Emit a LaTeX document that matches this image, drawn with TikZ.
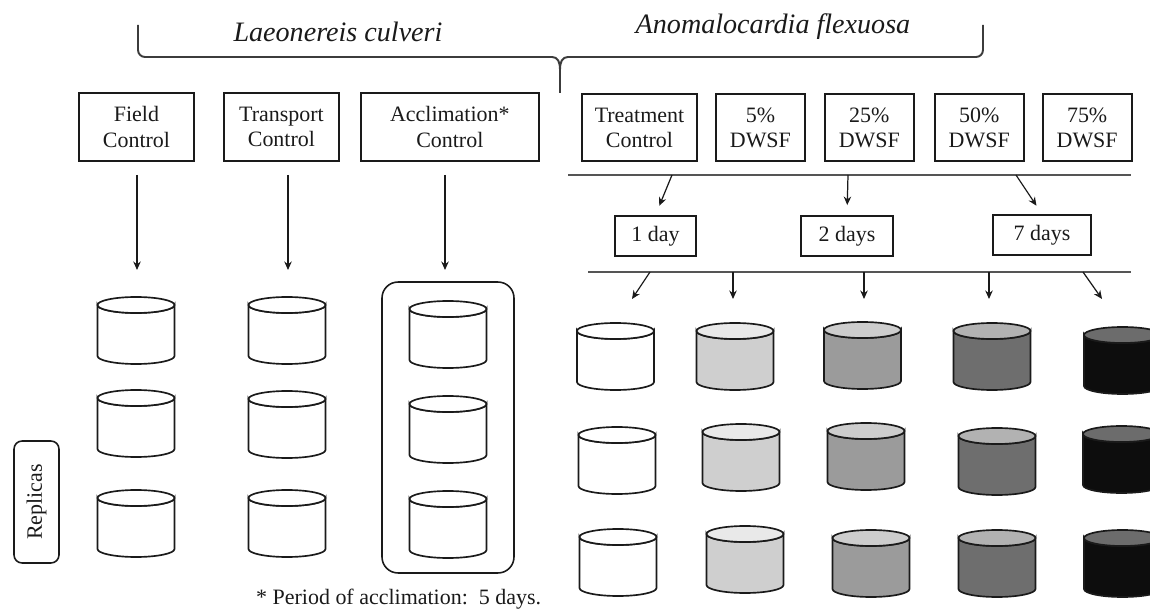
\documentclass[tikz,border=0pt]{standalone}
\usepackage{fontspec}
\setmainfont{Liberation Serif}
\usetikzlibrary{positioning, arrows.meta, calc}

\definecolor{ink}{HTML}{1A1A1A}
\definecolor{railgray}{HTML}{555555}
\definecolor{tankB}{HTML}{CFCFCF}
\definecolor{tankBtop}{HTML}{E9E9E9}
\definecolor{tankC}{HTML}{9B9B9B}
\definecolor{tankCtop}{HTML}{CDCDCD}
\definecolor{tankD}{HTML}{6E6E6E}
\definecolor{tankDtop}{HTML}{B2B2B2}
\definecolor{tankE}{HTML}{0D0D0D}
\definecolor{tankEtop}{HTML}{6C6C6C}

\begin{document}
\begin{tikzpicture}[
  x=0.02cm, y=-0.02cm,
  >={Stealth[length=1.7mm, width=1.5mm]},
  every node/.style={font=\fontsize{12.5}{14.3}\selectfont, text=ink},
  box/.style     = {draw=ink, line width=1.1pt, align=center, inner sep=0pt},
  ctrl/.style    = {box, minimum width=2.3cm, minimum height=1.36cm},
  dwsf/.style    = {box, minimum width=1.78cm, minimum height=1.34cm},
  daybox/.style  = {box, minimum height=0.8cm},
  species/.style = {font=\fontsize{16}{19}\selectfont\itshape},
  grp/.style     = {draw=ink, line width=0.9pt, rounded corners=0.32cm, minimum width=2.64cm, minimum height=5.82cm},
  replica/.style = {draw=ink, line width=0.9pt, rounded corners=0.16cm, rotate=90, minimum width=2.44cm, minimum height=0.9cm, inner sep=0pt},
  brace/.style   = {line width=1.1pt, ink!85},
  rail/.style    = {line width=1pt, railgray},
  arr/.style     = {->, line width=0.7pt, ink},
  pics/tank/.style 2 args={code={
    \filldraw[fill=#1, draw=ink, line width=0.95pt]
      (-38.5,0) -- (-38.5,51) arc[start angle=180, end angle=0, x radius=38.5, y radius=8]
      -- (38.5,0) arc[start angle=0, end angle=180, x radius=38.5, y radius=8] -- cycle;
    \filldraw[fill=#2, draw=ink, line width=0.95pt] (0,0) ellipse[x radius=38.5, y radius=8];
  }},
]
  \path[use as bounding box, clip] (0,0) rectangle (1150,611);

  % species brace
  \draw[brace] (138,25) -- (138,50) arc[start angle=180, end angle=90, radius=7]
    -- (552,57) .. controls (558,57) and (560,62) .. (560,70) -- (560,93);
  \draw[brace] (560,70) .. controls (560,62) and (562,57) .. (568,57)
    -- (976,57) arc[start angle=90, end angle=0, radius=7] -- (983,25);
  \node[species] (lc) at (338,32) {Laeonereis culveri};
  \node[species] (af) at (773,27) {Anomalocardia flexuosa};

  % control and treatment boxes
  \node[ctrl]                                      (field) at (136.5,127) {Field\\Control};
  \node[ctrl, right=0.56cm of field]               (trans) {Transport\\Control};
  \node[ctrl, minimum width=3.56cm, right=0.4cm of trans] (accl) {Acclimation*\\Control};
  \node[ctrl, minimum height=1.34cm]               (treat) at (639.5,127.5) {Treatment\\Control};
  \node[dwsf, right=0.34cm of treat]               (d5)  {5\%\\DWSF};
  \node[dwsf, right=0.36cm of d5]                  (d25) {25\%\\DWSF};
  \node[dwsf, right=0.38cm of d25]                 (d50) {50\%\\DWSF};
  \node[dwsf, right=0.34cm of d50]                 (d75) {75\%\\DWSF};

  % exposure times
  \node[daybox, minimum width=1.62cm] (day1) at (655.5,236) {1 day};
  \node[daybox, minimum width=1.84cm] (day2) at (847,236)   {2 days};
  \node[daybox, minimum width=1.96cm] (day7) at (1042,235)  {7 days};

  \coordinate (r1w) at (568,175);  \coordinate (r1e) at (1131,175);
  \coordinate (r2w) at (588,272);  \coordinate (r2e) at (1131,272);
  \draw[rail] (r1w) -- (r1e);
  \draw[rail] (r2w) -- (r2e);

  \foreach \dn/\x in {day1/672, day2/848, day7/1016} {
    \coordinate (\dn-in) at (\x,175);
    \draw[arr, shorten >=0.2cm] (\dn-in) -- (\dn.north);
  }
  \foreach \n/\xa/\xb in {1/650/632, 2/733/733, 3/864/864, 4/989/989, 5/1083/1102} {
    \coordinate (b\n-s) at (\xa,272);
    \coordinate (b\n-e) at (\xb,299);
    \draw[arr] (b\n-s) -- (b\n-e);
  }
  \foreach \n/\x in {field/137, trans/288, accl/445} {
    \coordinate (\n-top) at (\x,175);
    \coordinate (\n-end) at (\x,270);
    \draw[arr] (\n-top) -- (\n-end);
  }

  % replicas
  \node[grp]     (accgrp) at (448,427.5) {};
  \node[replica] (rep)    at (36.5,502)  {Replicas};

  \foreach \cx/\cy in {136/305, 136/398, 136/498, 287/305, 287/399, 287/498,
                       448/309, 448/404, 448/499, 615.5/331, 617/435, 618/537}
    \pic at (\cx,\cy) {tank={white}{white}};
  \foreach \cx/\cy/\fb/\ft in {735/331/tankB/tankBtop, 741/432/tankB/tankBtop, 745/534/tankB/tankBtop,
                               862.5/330/tankC/tankCtop, 866/431/tankC/tankCtop, 871/538/tankC/tankCtop,
                               992/331/tankD/tankDtop, 997/436/tankD/tankDtop, 997/538/tankD/tankDtop,
                               1122.5/335/tankE/tankEtop, 1121.5/434/tankE/tankEtop, 1122.5/538/tankE/tankEtop}
    \pic at (\cx,\cy) {tank={\fb}{\ft}};

  \node[anchor=base west] (note) at (250,604) {* Period of acclimation:\ \ 5 days.};
\end{tikzpicture}
\end{document}
